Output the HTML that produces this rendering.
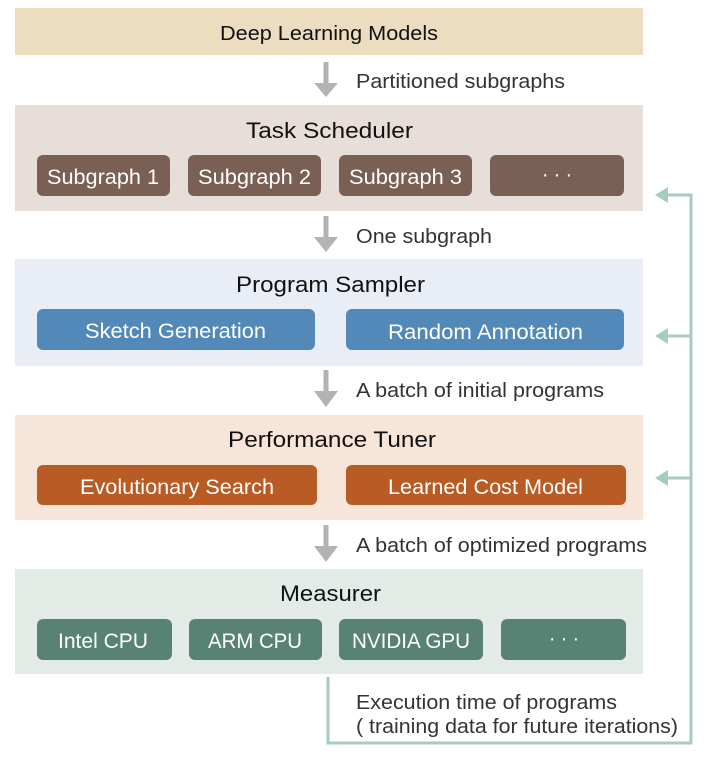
<!DOCTYPE html>
<html><head><meta charset="utf-8"><style>
html,body{margin:0;padding:0;background:#fff;}
svg{display:block;}
text{font-family:"Liberation Sans",sans-serif;}
</style></head><body>
<svg width="718" height="758" viewBox="0 0 718 758" xmlns="http://www.w3.org/2000/svg">
<rect x="15" y="8" width="628" height="47" fill="#ecdcc0"/>
<text x="220" y="40" font-size="20" textLength="218" lengthAdjust="spacingAndGlyphs" fill="#111">Deep Learning Models</text>

<g fill="#b3b3b3">
<rect x="323.5" y="62" width="5" height="22"/><polygon points="314,83 338,83 326,97"/>
<rect x="323.5" y="216" width="5" height="22"/><polygon points="314,237 338,237 326,252"/>
<rect x="323.5" y="370" width="5" height="22"/><polygon points="314,391 338,391 326,407"/>
<rect x="323.5" y="525" width="5" height="22"/><polygon points="314,546 338,546 326,562"/>
</g>
<g font-size="20.5" fill="#333">
<text x="356" y="88" textLength="209" lengthAdjust="spacingAndGlyphs">Partitioned subgraphs</text>
<text x="356" y="243" textLength="136" lengthAdjust="spacingAndGlyphs">One subgraph</text>
<text x="356" y="397" textLength="248" lengthAdjust="spacingAndGlyphs">A batch of initial programs</text>
<text x="356" y="552" textLength="291" lengthAdjust="spacingAndGlyphs">A batch of optimized programs</text>
<text x="356" y="709" textLength="261" lengthAdjust="spacingAndGlyphs">Execution time of programs</text>
<text x="356" y="733" textLength="322" lengthAdjust="spacingAndGlyphs">( training data for future iterations)</text>
</g>

<rect x="15" y="105" width="628" height="106" fill="#e7ddd9"/>
<text x="246" y="138" font-size="22" textLength="167" lengthAdjust="spacingAndGlyphs" fill="#111">Task Scheduler</text>
<g fill="#7a5f55">
<rect x="37" y="155" width="133" height="41" rx="6"/>
<rect x="188" y="155" width="133" height="41" rx="6"/>
<rect x="339" y="155" width="133" height="41" rx="6"/>
<rect x="490" y="155" width="134" height="41" rx="6"/>
</g>
<g font-size="21" fill="#fff">
<text x="47" y="184" textLength="112" lengthAdjust="spacingAndGlyphs">Subgraph  1</text>
<text x="198" y="184" textLength="113" lengthAdjust="spacingAndGlyphs">Subgraph  2</text>
<text x="349" y="184" textLength="113" lengthAdjust="spacingAndGlyphs">Subgraph  3</text>
<text x="542" y="181" textLength="30" lengthAdjust="spacingAndGlyphs">· · ·</text>
</g>

<rect x="15" y="259" width="628" height="107" fill="#e9eef6"/>
<text x="236" y="292" font-size="22" textLength="189" lengthAdjust="spacingAndGlyphs" fill="#111">Program Sampler</text>
<g fill="#5389b8">
<rect x="37" y="309" width="278" height="41" rx="6"/>
<rect x="346" y="309" width="278" height="41" rx="6"/>
</g>
<g font-size="21" fill="#fff">
<text x="85" y="338" textLength="181" lengthAdjust="spacingAndGlyphs">Sketch Generation</text>
<text x="388" y="339" textLength="195" lengthAdjust="spacingAndGlyphs">Random Annotation</text>
</g>

<rect x="15" y="415" width="628" height="105" fill="#f8e5da"/>
<text x="228" y="447" font-size="22" textLength="208" lengthAdjust="spacingAndGlyphs" fill="#111">Performance Tuner</text>
<g fill="#b95b24">
<rect x="37" y="465" width="280" height="40" rx="6"/>
<rect x="346" y="465" width="280" height="40" rx="6"/>
</g>
<g font-size="21" fill="#fff">
<text x="80" y="494" textLength="194" lengthAdjust="spacingAndGlyphs">Evolutionary Search</text>
<text x="388" y="494" textLength="195" lengthAdjust="spacingAndGlyphs">Learned Cost Model</text>
</g>

<rect x="15" y="569" width="628" height="105" fill="#e2ebe6"/>
<text x="280" y="601" font-size="22" textLength="101" lengthAdjust="spacingAndGlyphs" fill="#111">Measurer</text>
<g fill="#578274">
<rect x="37" y="619" width="135" height="41" rx="6"/>
<rect x="189" y="619" width="133" height="41" rx="6"/>
<rect x="339" y="619" width="144" height="41" rx="6"/>
<rect x="501" y="619" width="125" height="41" rx="6"/>
</g>
<g font-size="21" fill="#fff">
<text x="58" y="648" textLength="90" lengthAdjust="spacingAndGlyphs">Intel CPU</text>
<text x="208" y="648" textLength="94" lengthAdjust="spacingAndGlyphs">ARM CPU</text>
<text x="352" y="648" textLength="118" lengthAdjust="spacingAndGlyphs">NVIDIA GPU</text>
<text x="549" y="645" textLength="30" lengthAdjust="spacingAndGlyphs">· · ·</text>
</g>

<g stroke="#a8cbc1" stroke-width="3" fill="none">
<polyline points="328,677 328,743 691,743 691,195 665,195"/>
<line x1="691" y1="336" x2="665" y2="336"/>
<line x1="691" y1="478" x2="665" y2="478"/>
</g>
<g fill="#a8cbc1">
<polygon points="655,195 668,187 668,203"/>
<polygon points="655,336 668,328 668,344"/>
<polygon points="655,478 668,470 668,486"/>
</g>
</svg>
</body></html>
